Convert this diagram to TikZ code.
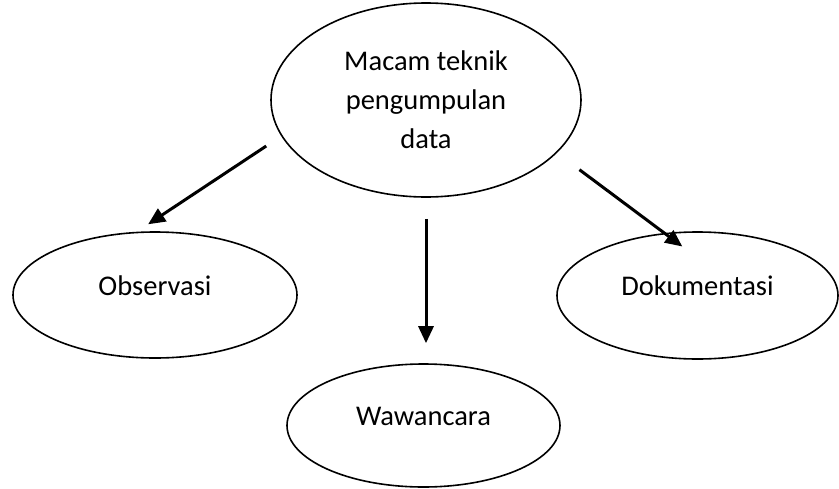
\documentclass[tikz,border=0pt]{standalone}
\usepackage{fontspec}
\setmainfont{Carlito}
\usetikzlibrary{shapes.geometric,arrows.meta}
\tikzset{%
  oval/.style={ellipse,draw,line width=1.6pt,inner sep=2pt,
    font=\fontsize{28.5}{39}\selectfont},
  leaf/.style={oval,text height=20pt,text depth=20pt},
  link/.style={line width=3pt,-{Triangle[length=17pt,width=15pt]}}
}
\begin{document}
\begin{tikzpicture}[x=1pt,y=-1pt]
    \useasboundingbox (0,0) rectangle (839,488);
    %
    \node[oval,align=center,minimum width=310pt,minimum height=194pt]
      (top) at (426,100) {Macam teknik\\pengumpulan\\data};
    \node[leaf,minimum width=284pt,minimum height=126pt]
      (obs) at (155,295) {Observasi};
    \node[leaf,minimum width=273pt,minimum height=123pt]
      (waw) at (423.5,425.5) {Wawancara};
    \node[leaf,minimum width=281pt,minimum height=127pt]
      (dok) at (697.5,295.5) {Dokumentasi};
    %
    \draw[link,shorten <=18pt,shorten >=13.5pt] (top.194) -- (obs.106);
    \draw[link,shorten <=21pt,shorten >=20pt]
      (top.south) -- (top.south |- waw.north);
    \draw[link,shorten <=28pt,shorten >=-22.5pt] (top.338) -- (dok.118);
\end{tikzpicture}
\end{document}
